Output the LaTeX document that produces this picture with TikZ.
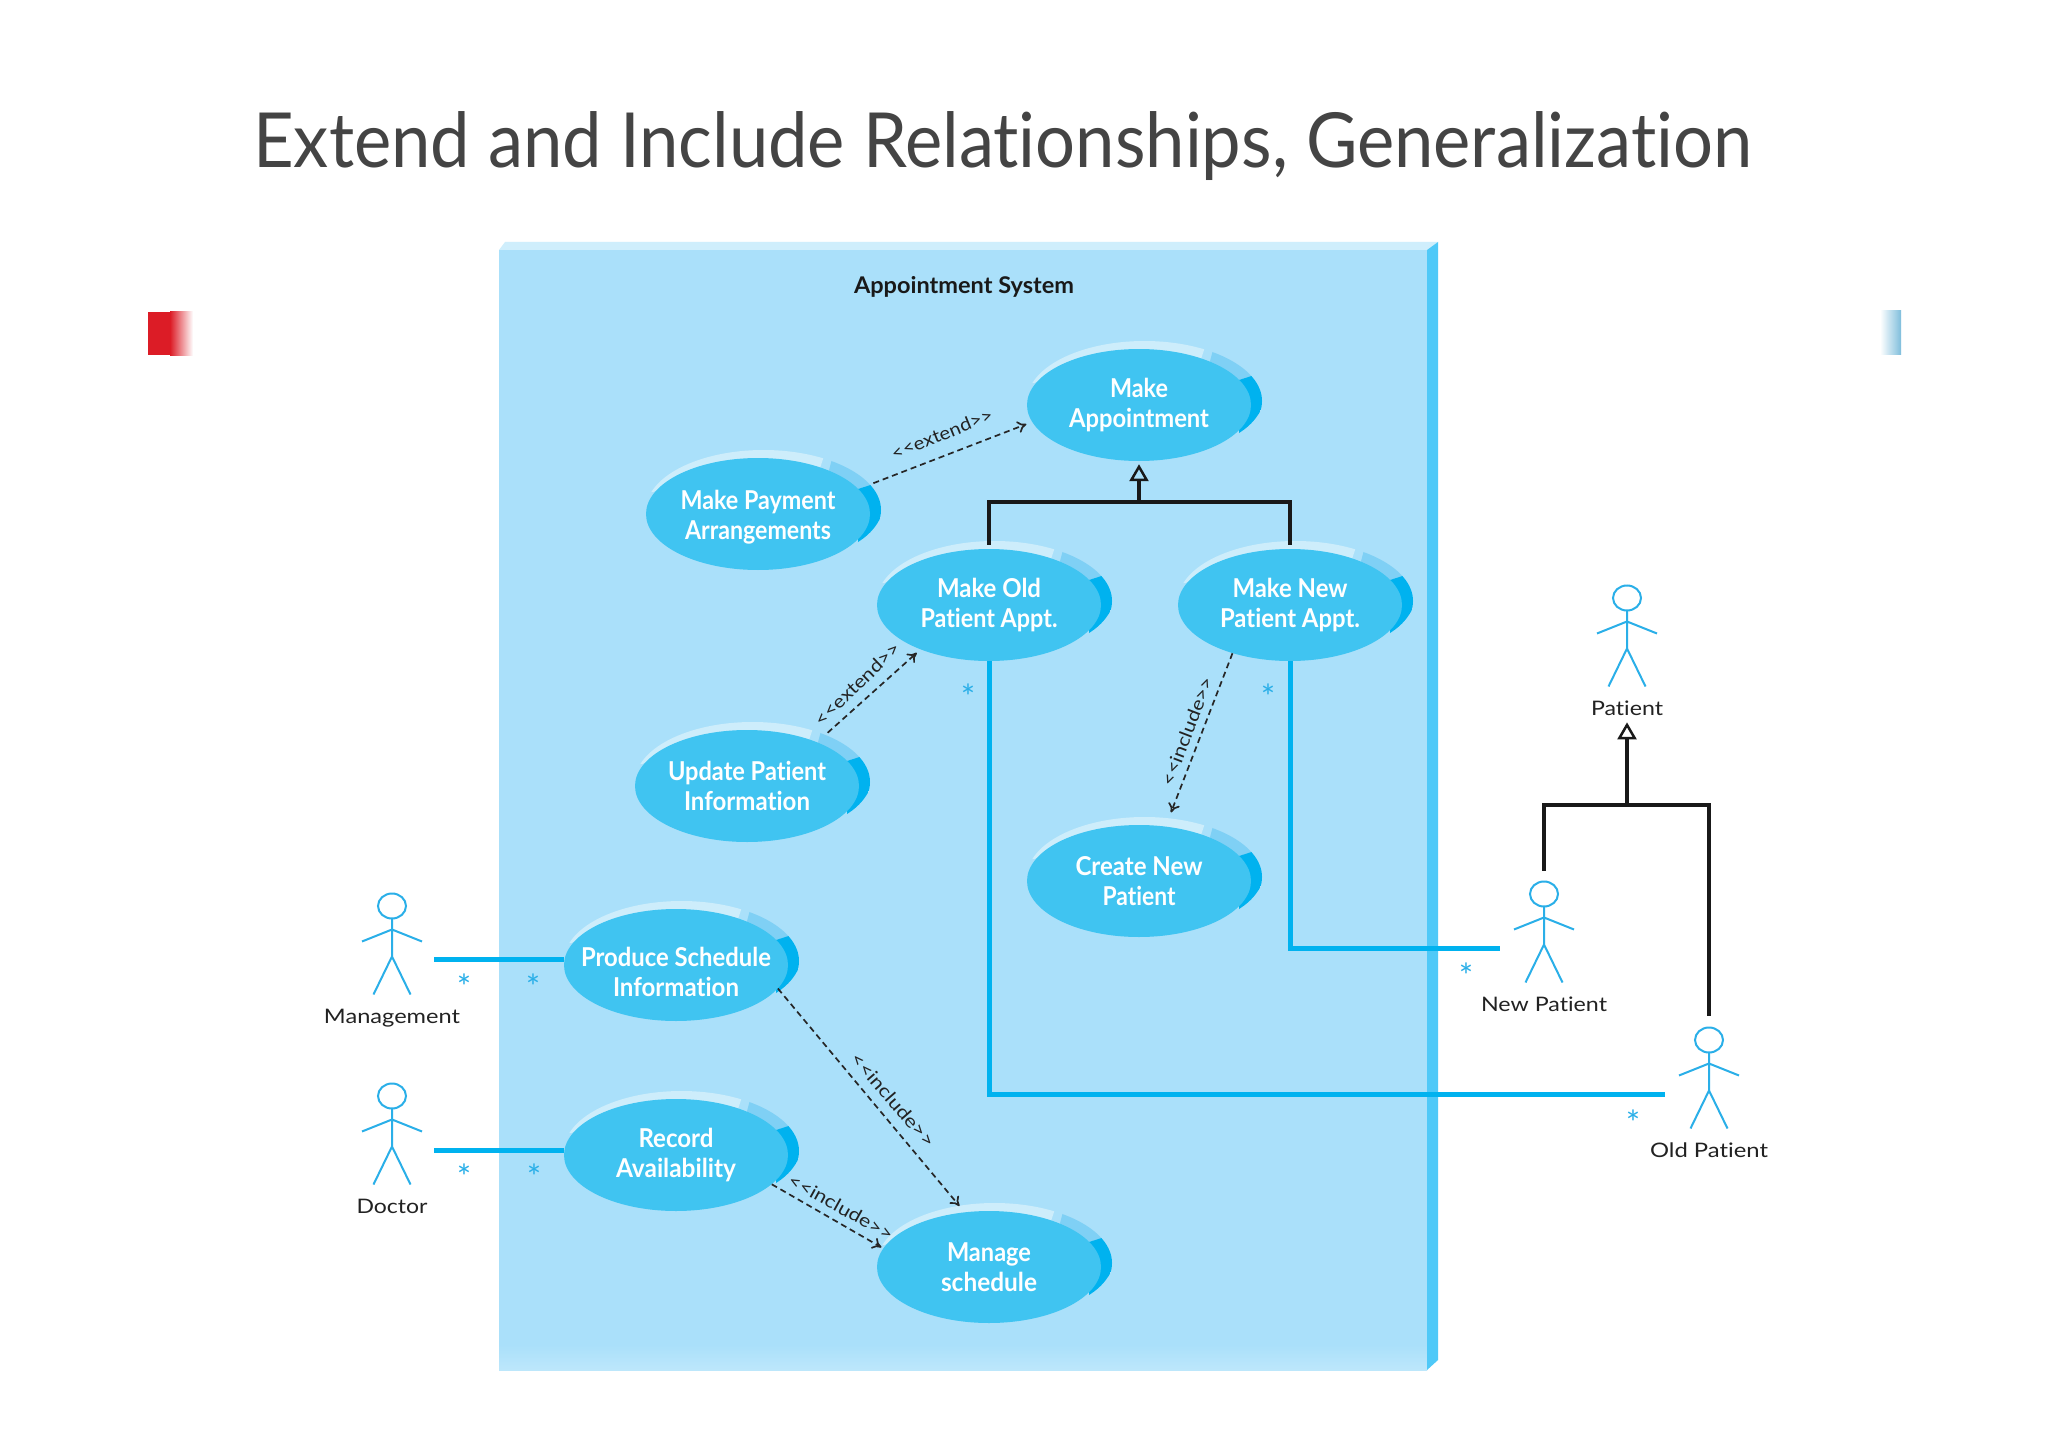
\documentclass[tikz,border=0pt]{standalone}
\usepackage{fontspec}
\usepackage{graphicx}
\usetikzlibrary{arrows.meta,shapes.geometric}
\setmainfont{Lato}[Ligatures=NoCommon]
\definecolor{panelc}{HTML}{AAE0FA}
\definecolor{panelfade}{HTML}{BDE7FB}
\definecolor{panelstrip}{HTML}{4FC9F8}
\definecolor{panelband}{HTML}{CFEEFC}
\definecolor{ucfill}{HTML}{40C4F1}
\definecolor{uclight}{HTML}{CDEDFB}
\definecolor{ucpatch}{HTML}{7FD0F5}
\definecolor{ucdark}{HTML}{00B2EF}
\definecolor{linkblue}{HTML}{00B2EF}
\definecolor{actorblue}{HTML}{2AAFE8}
\definecolor{titlegrey}{HTML}{444444}
\definecolor{inkc}{HTML}{222222}
\definecolor{tabred}{HTML}{DC1C26}
\definecolor{tabblue}{HTML}{7FBEDC}
\newcommand{\fitw}[2]{\resizebox{#1pt}{\height}{#2}}
\tikzset{
  ucshape/.style={ellipse,fill=ucfill,minimum width=224pt,minimum height=112pt,inner sep=0pt},
  uctext/.style={text=white,align=center,inner sep=0pt,font=\fontsize{26}{29.5}\selectfont\bfseries},
  genline/.style={draw=black!90,line width=4.5pt},
  linkline/.style={draw=linkblue,line width=5pt},
  dep/.style={draw=black!85,line width=1.7pt,dash pattern=on 6pt off 4pt,-{To[length=9pt,width=12pt]}},
  deplabel/.style={text=inkc,inner sep=0pt,font=\fontsize{18}{20}\selectfont},
  actorline/.style={draw=actorblue,line width=2pt},
  actorlabel/.style={text=inkc,anchor=base,inner sep=0pt,font=\fontsize{20}{24}\selectfont},
  mult/.style={text=actorblue,inner sep=0pt,font=\fontsize{34}{34}\selectfont},
  openhead/.style={-{Triangle[open,length=17pt,width=19pt,line width=2.5pt,fill=#1]}}
}
% [text offset], name, cx, cy, width1, text1, width2, text2
\newcommand{\usecase}[8][0]{%
  \begin{scope}[shift={(#3,#4)}]
    \begin{scope}
      \clip (5.5,-4) ellipse [x radius=117.5,y radius=60];
      \fill[uclight] (-125,-70) -- (70,-70) -- (60,-40) -- (-125,-20) -- cycle;
      \fill[ucpatch] (78,-70) -- (125,-33) -- (100,-25) -- (70,-40) -- cycle;
      \fill[ucdark] (125,-33) -- (125,-2) .. controls (122,6) and (116,18) .. (100,28) -- (100,-25) -- cycle;
    \end{scope}
    \node[ucshape] (#2) at (0,0) {};
    \node[uctext] (#2-t) at (0,#1) {\fitw{#5}{#6}\\\fitw{#7}{#8}};
  \end{scope}}
% name, x, y(head centre), label width, label
\newcommand{\actor}[5]{%
  \node[ellipse,draw=actorblue,line width=2pt,minimum width=28pt,minimum height=25pt,inner sep=0pt] (#1) at (#2,#3) {};
  \begin{scope}[shift={(#2,#3)}]
    \draw[actorline] (0,12.5) -- (0,50.5) (-18.5,88.5) -- (0,50.5) -- (18.5,88.5)
       (-30,35.5) -- (0,23.5) -- (30,35.5);
    \node[actorlabel] (#1-l) at (0,117) {\fitw{#4}{#5}};
  \end{scope}}
\begin{document}
\begin{tikzpicture}[x=1pt,y=-1pt]
\useasboundingbox (0,0) rectangle (2048,1447);
\fill[white] (0,0) rectangle (2048,1447);
% title
\node[anchor=base west,inner sep=0pt,text=titlegrey,font=\fontsize{76}{80}\selectfont] (title) at (253,168)
  {\fitw{1499}{Extend and Include Relationships, Generalization}};
% side tabs
\fill[tabred] (148,312) rectangle (170,355);
\shade[left color=tabred,right color=white] (170,312) rectangle (193,355);
\shade[left color=white,right color=tabblue] (1880,311) rectangle (1901,354);
% system panel
\fill[panelband] (499,250) -- (505,242) -- (1438,242) -- (1427,250) -- cycle;
\fill[panelc] (499,250) rectangle (1427,1345);
\shade[top color=panelc,bottom color=panelfade] (499,1345) rectangle (1427,1370);
\fill[panelstrip] (1427,250) -- (1438,242) -- (1438,1360) -- (1427,1370) -- cycle;
\node[inner sep=0pt,text=black!90,font=\fontsize{23}{26}\selectfont\bfseries] (sys) at (964,287) {\fitw{220}{Appointment System}};
% use cases
\usecase{app}{1139}{405}{58}{Make}{140}{Appointment}
\usecase[3]{pay}{758}{514}{155}{Make Payment}{146}{Arrangements}
\usecase{old}{989}{605}{104}{Make Old}{137}{Patient Appt.}
\usecase{new}{1290}{605}{115}{Make New}{140}{Patient Appt.}
\usecase{upd}{747}{786}{158}{Update Patient}{126}{Information}
\usecase{cre}{1139}{881}{127}{Create New}{73}{Patient}
\usecase[7]{pro}{676}{965}{190}{Produce Schedule}{126}{Information}
\usecase{rec}{676}{1155}{75}{Record}{120}{Availability}
\usecase{man}{989}{1267}{84}{Manage}{96}{schedule}
% actors
\actor{mg}{392}{906}{136}{Management}
\actor{doc}{392}{1096}{71}{Doctor}
\actor{pat}{1627}{598}{72}{Patient}
\actor{np}{1544}{894}{126}{New Patient}
\actor{op}{1709}{1040}{118}{Old Patient}
% association ends
\coordinate (mgEnd) at (434,959);
\coordinate (docEnd) at (434,1150);
\coordinate (npEnd) at (1500,948);
\coordinate (opEnd) at (1665,1094);
\draw[linkline] (mgEnd) -- (mgEnd -| pro.west);
\draw[linkline] (docEnd) -- (docEnd -| rec.west);
\draw[linkline] (new.south) |- (npEnd);
\draw[linkline] (old.south) |- (opEnd);
% generalizations
\coordinate (genA) at (1139,502);
\coordinate (genB) at (1627,805);
\draw[genline,shorten <=4pt] (old.north) |- (genA);
\draw[genline,shorten <=4pt] (new.north) |- (genA);
\draw[genline,openhead=panelc,shorten >=3pt] (genA) -- (app.south);
\draw[genline,shorten <=10pt] (np.north) |- (genB);
\draw[genline,shorten <=11pt] (op.north) |- (genB);
\draw[genline,openhead=white,shorten >=7pt] (genB) -- (pat-l.south);
% dependencies
\draw[dep,shorten <=16pt,shorten >=6pt] (pay.14) -- (app.189);
\draw[dep,shorten <=14pt,shorten >=5pt] (upd.32) -- (old.213);
\draw[dep,shorten >=15pt] (new.220) -- (cre.64);
\draw[dep,shorten >=8pt] (pro.-13) -- (man.114);
\draw[dep,shorten >=2pt] (rec.-17) -- (man.170);
\node[deplabel,rotate=22] (l1) at (942,434) {\fitw{108}{<\kern0pt<extend>\kern0pt>}};
\node[deplabel,rotate=44] (l2) at (857,684) {\fitw{111}{<\kern0pt<extend>\kern0pt>}};
\node[deplabel,rotate=69] (l3) at (1187,731) {\fitw{115}{<\kern0pt<include>\kern0pt>}};
\node[deplabel,rotate=-49] (l4) at (893,1100) {\fitw{118}{<\kern0pt<include>\kern0pt>}};
\node[deplabel,rotate=-29] (l5) at (841,1207) {\fitw{117}{<\kern0pt<include>\kern0pt>}};
% multiplicities
\node[mult] (s1) at (464,987) {*};
\node[mult] (s2) at (533,987) {*};
\node[mult] (s3) at (464,1177) {*};
\node[mult] (s4) at (534,1177) {*};
\node[mult] (s5) at (968,697) {*};
\node[mult] (s6) at (1268,697) {*};
\node[mult] (s7) at (1466,976) {*};
\node[mult] (s8) at (1633,1123) {*};
\end{tikzpicture}
\end{document}
